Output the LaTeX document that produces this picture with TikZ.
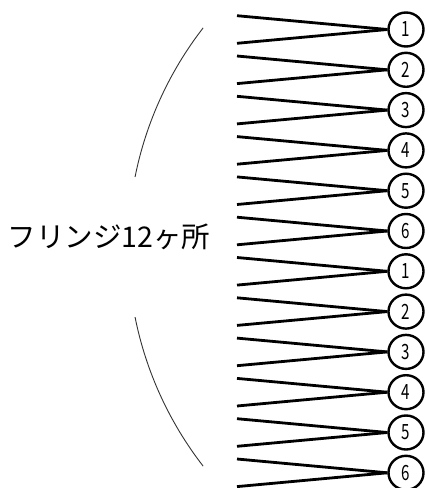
\documentclass[tikz,border=0pt]{standalone}
\usepackage{fontspec}
\usetikzlibrary{shapes.geometric}
\newfontfamily\jp{Noto Sans CJK JP}
\begin{document}
\begin{tikzpicture}[x=1pt,y=-1pt,
  fringe/.style={line width=2.8pt},
  numc/.style={ellipse, draw, line width=2.4pt, minimum width=35pt, minimum height=34pt, inner sep=0pt, fill=white,
    font=\jp\fontsize{21}{21}\selectfont},
  arcline/.style={line width=0.9pt, draw=black!80},
  lbl/.style={font=\jp\fontsize{28.5}{28.5}\selectfont, inner sep=0pt}]
\useasboundingbox (0,0) rectangle (429,488);
\foreach \k/\n in {0/1,1/2,2/3,3/4,4/5,5/6,6/1,7/2,8/3,9/4,10/5,11/6}{
  \pgfmathsetmacro{\cy}{29.5+40.3*\k}
  \coordinate (sa\k) at (237,\cy-13.8);
  \coordinate (sb\k) at (237,\cy+13.8);
  \node[numc] (c\k) at (406,\cy) {\scalebox{0.72}[1]{\n}};
  \draw[fringe] (sa\k) -- (c\k.west);
  \draw[fringe] (sb\k) -- (c\k.west);
}
\node[lbl] (t) at (109,237) {フリンジ12ヶ所};
\coordinate (C) at (485.6,247);
\draw[arcline] (C) ++(217.8:357.5) arc (217.8:191.3:357.5);
\draw[arcline] (C) ++(168.7:357.5) arc (168.7:142.2:357.5);
\end{tikzpicture}
\end{document}
